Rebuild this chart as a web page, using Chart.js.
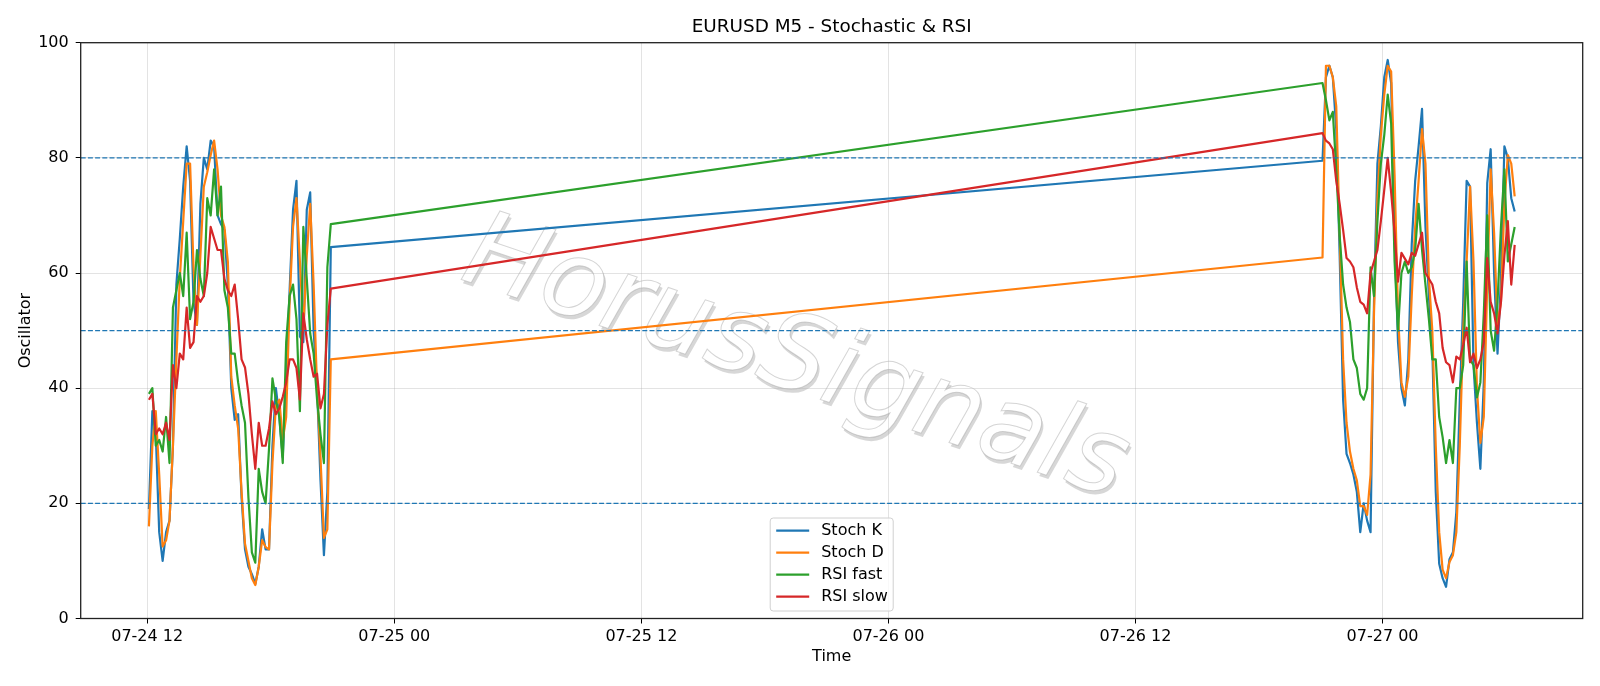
<!DOCTYPE html>
<html>
<head>
<meta charset="utf-8">
<title>EURUSD M5 - Stochastic & RSI</title>
<script src="https://cdn.jsdelivr.net/npm/chart.js@4.4.1/dist/chart.umd.min.js"></script>
<style>
  html, body { margin: 0; padding: 0; background: #fff; }
  canvas { display: block; }
</style>
</head>
<body>
<canvas id="osc-chart" width="1600" height="686"></canvas>
<script>
// two trading sessions (fri afternoon, sun night / mon morning), sampled every 10 min
const sessionStarts = ['07-24 12:05', '07-26 21:05'];
const sessionBars = [54, 57];
const stepMinutes = 10;

// values, session 1 then session 2
const stochK = [
  19, 36, 32, 15, 10, 15, 17, 30, 58, 66, 75, 82, 76, 55, 51, 72, 80, 78, 83, 82,
  70, 68.5, 67.5, 58, 40, 34.5, 35.5, 21, 12, 9, 7.7, 6, 9, 15.5, 12, 12, 30, 40, 35, 28,
  41.7, 57, 71, 76, 49, 48, 71, 74, 50, 40, 24, 11, 22, 64.5,
  79.5, 94, 96, 94, 85, 63, 38, 28.6, 27, 25, 22, 15, 20, 17, 15, 55, 79, 85.5, 94, 97,
  93, 66, 48, 40, 37, 45, 65, 76, 82, 88.5, 68, 56, 47, 22, 9.5, 7, 5.5, 10.3, 11.5, 18.5,
  38, 55, 76, 75, 44, 34, 26, 41, 75.6, 81.5, 60, 46, 59, 82, 80, 73, 70.7
];
const stochD = [
  16, 30, 36, 25, 12.5, 13.6, 17, 30, 45, 59, 69, 79, 79, 61, 51, 63, 75, 77.5, 80.5, 83,
  78, 70, 68, 62, 42, 37, 33, 22, 13, 10, 7, 5.8, 9, 13.6, 12.4, 12, 27, 37, 38, 31,
  35, 55, 68, 73, 62, 50, 63, 72, 58, 40, 28, 14, 15.5, 45,
  62.7, 96, 96, 94, 89, 67, 45, 34, 29, 26, 24, 19.5, 19.5, 18, 25, 53, 73, 84, 91, 96,
  95, 77, 53, 41, 38.5, 42, 56, 68, 76, 85, 79, 59, 50, 30, 15, 8.5, 7, 9.8, 11, 15,
  30, 50, 62, 75, 62, 40, 30.5, 35, 58, 78, 67, 51, 55, 72, 80.5, 79, 73.3
];
const rsiFast = [
  39, 40, 30, 31, 29, 35, 27, 54, 57, 60, 56, 67, 52, 55, 64, 59, 56, 73, 70, 78,
  70, 75, 57, 54, 46, 46, 41, 37, 34, 21, 11.5, 9.7, 26, 22, 20, 29.5, 41.7, 38, 35, 27,
  48, 56, 58, 52, 36, 68, 59, 49.5, 46, 38, 32, 27, 61, 68.5,
  93, 90, 86.5, 88, 78, 66.5, 58, 54, 51.5, 45, 43.5, 39, 38, 40, 61, 56, 69, 79, 84, 91,
  86, 62, 50, 60, 62, 60, 61, 64, 72, 64, 58, 52, 45, 45, 35, 31.5, 27, 31, 27, 40,
  40, 44, 62, 45, 44, 38.4, 41, 53, 70, 50, 46.5, 55, 68, 78, 62, 65, 68
];
const rsiSlow = [
  38, 39, 32, 33, 32, 34, 31, 44, 40, 46, 45, 54, 47, 48, 56, 55, 56, 60, 68, 66,
  64, 64, 59, 57, 56, 58, 52, 45, 43.6, 39, 32, 26, 34, 30, 30, 33, 37.7, 35.5, 36.5, 38.5,
  41, 45, 45, 43.5, 38, 53, 48.5, 45, 42, 42.5, 36.5, 39, 51, 57.3,
  84.3, 83, 82.5, 81.5, 76, 72, 67.5, 62.6, 62, 61, 57.5, 55, 54.5, 53, 60, 62, 64, 69, 74.5, 80,
  74, 67, 58.5, 63.5, 62.5, 61.5, 63.5, 63, 65, 67, 60, 59, 58, 55, 53, 47, 44.5, 44, 41, 45.5,
  45, 47.5, 50.5, 44.5, 46, 43.5, 45, 48, 62.6, 55, 53, 49.5, 55, 63, 69, 58, 64.9
];

const seriesNames = ['Stoch K', 'Stoch D', 'RSI fast', 'RSI slow'];
const seriesColors = ['#1f77b4', '#ff7f0e', '#2ca02c', '#d62728'];
const levels = [20, 50, 80];
const tickHours = [12, 24, 36, 48, 60, 72]; // hours after 07-24 00:00
const yTicks = [0, 20, 40, 60, 80, 100];
const chartTitle = 'EURUSD M5 - Stochastic & RSI';
const markText = 'HorusSignals';

const FONT = 'DejaVu Sans';
Chart.defaults.font.family = FONT;
Chart.defaults.font.size = 16;
Chart.defaults.color = '#000';

function toHours(s) {
  // 'MM-DD HH:MM' -> hours since 07-24 00:00
  const day = parseInt(s.slice(3, 5));
  const hh = parseInt(s.slice(6, 8));
  const mm = parseInt(s.slice(9, 11));
  return (day - 24) * 24 + hh + mm / 60;
}

function hourLabel(v) {
  const day = 24 + Math.floor(v / 24);
  const hh = Math.round(v % 24);
  return '07-' + day + ' ' + String(hh).padStart(2, '0');
}

const xs = [];
sessionStarts.forEach((s, i) => {
  const h0 = toHours(s);
  for (let k = 0; k < sessionBars[i]; k++) xs.push(h0 + k * stepMinutes / 60);
});

const allSeries = [stochK, stochD, rsiFast, rsiSlow];
const datasets = allSeries.map((vals, i) => ({
  label: seriesNames[i],
  data: vals.map((v, j) => ({ x: xs[j], y: v })),
  borderColor: seriesColors[i],
  backgroundColor: seriesColors[i],
  borderWidth: 2.2,
  fill: false,
  order: 4 - i  // red drawn last, like the plot order
}));

const watermark = {
  id: 'watermark',
  beforeDraw(chart) {
    const c = chart.ctx;
    c.save();
    c.translate(795, 362);
    c.rotate(18.5 * Math.PI / 180);
    c.font = 'oblique 106px "' + FONT + '"';
    c.textAlign = 'center';
    c.textBaseline = 'middle';
    c.fillStyle = 'rgba(130,130,130,0.32)';
    c.fillText(markText, 3, 3);
    c.fillStyle = '#ffffff';
    c.fillText(markText, 0, 0);
    c.strokeStyle = 'rgba(150,150,150,0.4)';
    c.lineWidth = 1;
    c.strokeText(markText, 0, 0);
    c.restore();
  }
};

const levelLines = {
  id: 'levelLines',
  afterDatasetsDraw(chart) {
    const c = chart.ctx, a = chart.chartArea, y = chart.scales.y;
    c.save();
    c.strokeStyle = '#1f77b4';
    c.lineWidth = 1.3;
    c.setLineDash([5, 2.2]);
    levels.forEach(l => {
      const py = y.getPixelForValue(l);
      c.beginPath();
      c.moveTo(a.left, py);
      c.lineTo(a.right, py);
      c.stroke();
    });
    c.restore();
  }
};

const frameAndLegend = {
  id: 'frameAndLegend',
  afterDraw(chart) {
    const c = chart.ctx, a = chart.chartArea;
    c.save();
    c.strokeStyle = '#222';
    c.lineWidth = 1.3;
    c.strokeRect(a.left, a.top, a.right - a.left, a.bottom - a.top);

    // title centred over the axes
    c.font = '18.4px "' + FONT + '"';
    c.fillStyle = '#000';
    c.textAlign = 'center';
    c.textBaseline = 'alphabetic';
    c.fillText(chartTitle, (a.left + a.right) / 2, 31.7);

    // legend box, lower centre
    const w = 123, h = 93;
    const bx = (a.left + a.right) / 2 - w / 2;
    const by = a.bottom - 7.5 - h;
    c.beginPath();
    c.roundRect(bx, by, w, h, 3);
    c.fillStyle = 'rgba(255,255,255,0.8)';
    c.fill();
    c.strokeStyle = '#d0d0d0';
    c.lineWidth = 1;
    c.stroke();
    c.font = '16px "' + FONT + '"';
    c.textBaseline = 'middle';
    c.textAlign = 'left';
    seriesNames.forEach((name, i) => {
      const ry = by + 12.7 + i * 22;
      c.strokeStyle = seriesColors[i];
      c.lineWidth = 2.2;
      c.beginPath();
      c.moveTo(bx + 6, ry);
      c.lineTo(bx + 39, ry);
      c.stroke();
      c.fillStyle = '#000';
      c.fillText(name, bx + 51, ry);
    });
    c.restore();
  }
};

const gridStyle = {
  color: 'rgba(176,176,176,0.35)',
  lineWidth: 1,
  drawTicks: true,
  tickColor: '#000',
  tickLength: 5,
  tickWidth: 1
};

new Chart(document.getElementById('osc-chart'), {
  type: 'line',
  data: { datasets },
  options: {
    responsive: false,
    animation: false,
    devicePixelRatio: 1,
    layout: { padding: { left: 0, right: 17.3, top: 42.7, bottom: 0 } },
    elements: {
      point: { radius: 0 },
      line: { tension: 0, borderJoinStyle: 'round' }
    },
    plugins: {
      legend: { display: false },
      tooltip: { enabled: false },
      title: { display: false }
    },
    scales: {
      x: {
        type: 'linear',
        min: 8.77,
        max: 81.72,
        afterBuildTicks: s => { s.ticks = tickHours.map(v => ({ value: v })); },
        afterFit: s => { s.height = 67.5; },
        ticks: { callback: v => hourLabel(v), padding: 4, maxRotation: 0, autoSkip: false },
        grid: gridStyle,
        border: { display: false },
        title: { display: true, text: 'Time', padding: { top: 0, bottom: 20 } }
      },
      y: {
        min: 0,
        max: 100,
        afterBuildTicks: s => { s.ticks = yTicks.map(v => ({ value: v })); },
        afterFit: s => { s.width = 80.7; },
        ticks: { padding: 7 },
        grid: gridStyle,
        border: { display: false },
        title: { display: true, text: 'Oscillator', padding: { top: 16, bottom: 0 } }
      }
    }
  },
  plugins: [watermark, levelLines, frameAndLegend]
});
</script>
</body>
</html>
